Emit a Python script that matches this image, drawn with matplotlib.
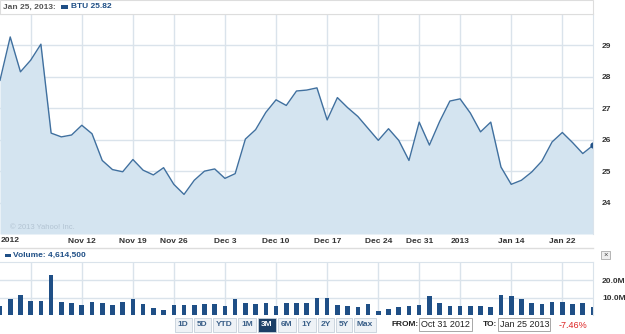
import numpy as np
import matplotlib
matplotlib.use("Agg")
import matplotlib.pyplot as plt
from matplotlib.patches import Rectangle

W, H = 625, 334

# BTU daily closes, Oct 31 2012 - Jan 25 2013 (trading days)
prices = [27.89, 29.27, 28.16, 28.53, 29.04, 26.21, 26.09, 26.15, 26.46, 26.19,
          25.34, 25.05, 24.98, 25.37, 25.03, 24.88, 25.11, 24.58, 24.26, 24.71,
          25.00, 25.07, 24.77, 24.92, 26.02, 26.32, 26.87, 27.27, 27.09, 27.55,
          27.58, 27.65, 26.63, 27.34, 27.02, 26.74, 26.36, 25.98, 26.35, 25.98,
          25.34, 26.56, 25.83, 26.58, 27.23, 27.30, 26.85, 26.25, 26.56, 25.13,
          24.58, 24.71, 24.97, 25.32, 25.93, 26.23, 25.91, 25.56, 25.82]

# volume in millions of shares
volume = [5.4, 9.4, 11.4, 8.1, 8.1, 22.7, 7.7, 6.9, 5.8, 7.3,
          6.7, 5.8, 7.7, 9.0, 6.4, 4.0, 2.7, 5.8, 5.8, 5.8,
          6.4, 6.4, 5.4, 9.4, 6.9, 6.4, 6.9, 5.4, 6.9, 6.9,
          6.7, 9.6, 10.0, 5.8, 5.4, 4.4, 6.4, 2.3, 3.5, 4.4,
          5.4, 5.8, 11.0, 6.7, 5.4, 5.4, 5.4, 5.0, 4.4, 11.4,
          11.0, 9.0, 6.9, 6.4, 7.3, 7.3, 6.4, 6.9, 4.6]

week_idx = [3, 8, 13, 17, 22, 27, 32, 37, 41, 45, 50, 55]
week_labels = ["", "Nov 12", "Nov 19", "Nov 26", "Dec 3", "Dec 10", "Dec 17",
               "Dec 24", "Dec 31", "2013", "Jan 14", "Jan 22"]
price_ticks = [24, 25, 26, 27, 28, 29]
vol_ticks = [10, 20]
vol_tick_labels = ["10.0M", "20.0M"]
buttons = ["1D", "5D", "YTD", "1M", "3M", "6M", "1Y", "2Y", "5Y", "Max"]
button_x = [174, 193, 212, 237, 257, 277, 297, 317, 335, 353, 377]

LINE = "#40709f"
FILL = "#d4e4f0"
BAR = "#1f4f86"
GRID = "#dae3eb"
TXT = "#333333"
BLUE = "#1f4f86"
FONT = "Liberation Sans"

x = np.arange(len(prices))


def fx(px):
    return px / W


def fy(py):
    return 1 - py / H


fig = plt.figure(figsize=(W / 100, H / 100), dpi=100)
fig.patch.set_facecolor("white")

# price panel
ax = fig.add_axes([0, fy(234), fx(593), (234 - 14) / H])
ax.fill_between(x, prices, 23, color=FILL, lw=0)
ax.plot(x, prices, color=LINE, lw=1.0)
ax.plot(x[-1], prices[-1], marker="o", ms=3.5, color=BAR)
ax.set_xlim(0, len(prices) - 1)
ax.set_ylim(23, 30)
ax.set_yticks(price_ticks)
ax.set_xticks(week_idx)
ax.set_xticklabels(week_labels)
ax.grid(True, color=GRID, lw=1)
ax.set_axisbelow(True)
ax.tick_params(axis="y", left=False, labelleft=False, right=False, labelright=True,
               pad=3, labelsize=6, labelcolor=TXT)
ax.tick_params(axis="x", length=0, pad=3, labelsize=6, labelcolor=TXT)
for lab in ax.get_xticklabels() + ax.get_yticklabels():
    lab.set_fontfamily(FONT)
    lab.set_fontweight("bold")
for s in ["left", "bottom"]:
    ax.spines[s].set_visible(False)
ax.spines["top"].set_color(GRID)
ax.spines["right"].set_color(GRID)
ax.text(1, 23.15, "\u00a9 2013 Yahoo! Inc.", fontsize=5.5, color="#b3c4d3",
        family=FONT)

fig.text(fx(1), fy(241), "2012", fontsize=6, fontweight="bold", color=TXT,
         family=FONT, va="center")

# header
fig.add_artist(Rectangle((0, fy(14)), fx(593), 14 / H, transform=fig.transFigure,
                         facecolor="white", edgecolor="#dddddd", lw=0.8))
fig.text(fx(3), fy(7), "Jan 25, 2013:", fontsize=6, fontweight="bold",
         color="#555555", family=FONT, va="center")
fig.add_artist(Rectangle((fx(61), fy(8.5)), fx(7), 3 / H, transform=fig.transFigure,
                         facecolor=BLUE, lw=0))
fig.text(fx(71), fy(7), "BTU 25.82", fontsize=6, fontweight="bold", color=BLUE,
         family=FONT, va="center")

# volume header
fig.add_artist(plt.Line2D([0, fx(593)], [fy(248), fy(248)], transform=fig.transFigure,
                          color="#dddddd", lw=1))
fig.add_artist(Rectangle((fx(5), fy(256.5)), fx(6), 3 / H, transform=fig.transFigure,
                         facecolor=BLUE, lw=0))
fig.text(fx(13), fy(255), "Volume: 4,614,500", fontsize=6, fontweight="bold",
         color=BLUE, family=FONT, va="center")
fig.add_artist(Rectangle((fx(601), fy(259)), fx(9), 8 / H, transform=fig.transFigure,
                         facecolor="#eeeeee", edgecolor="#aaaaaa", lw=0.6))
fig.text(fx(605.5), fy(255), "\u00d7", fontsize=5.5, color="#444444",
         ha="center", va="center", family=FONT)

# volume panel
vx = fig.add_axes([0, fy(315), fx(593), (315 - 262) / H])
vx.bar(x, volume, width=0.45, color=BAR)
vx.set_xlim(0, len(prices) - 1)
vx.set_ylim(0, 30.4)
vx.set_yticks(vol_ticks)
vx.set_yticklabels(vol_tick_labels)
vx.set_xticks(week_idx)
vx.set_xticklabels([])
vx.grid(True, color=GRID, lw=1)
vx.set_axisbelow(True)
vx.tick_params(axis="y", left=False, labelleft=False, right=False, labelright=True,
               pad=3, labelsize=6, labelcolor=TXT)
vx.tick_params(axis="x", length=0)
for lab in vx.get_yticklabels():
    lab.set_fontfamily(FONT)
    lab.set_fontweight("bold")
for s in ["left", "bottom"]:
    vx.spines[s].set_visible(False)
vx.spines["top"].set_color(GRID)
vx.spines["right"].set_color(GRID)

# range buttons
for i, b in enumerate(buttons):
    x0, x1 = button_x[i] + 0.5, button_x[i + 1] - 1
    sel = b == "3M"
    fig.add_artist(Rectangle((fx(x0), fy(332)), fx(x1 - x0), 14 / H,
                             transform=fig.transFigure,
                             facecolor="#1c3f66" if sel else "#eef2f6",
                             edgecolor="#c5d0da", lw=0.6))
    fig.text(fx((x0 + x1) / 2), fy(325), b, fontsize=6, fontweight="bold",
             color="white" if sel else "#3a5f88", ha="center", va="center",
             family=FONT)

fig.text(fx(391), fy(325), "FROM:", fontsize=6, fontweight="bold", color="#222222",
         va="center", family=FONT)
fig.add_artist(Rectangle((fx(419), fy(331)), fx(53), 13 / H, transform=fig.transFigure,
                         facecolor="white", edgecolor="#999999", lw=0.6))
fig.text(fx(421), fy(324.5), "Oct 31 2012", fontsize=6.5, color="#222222",
         va="center", family=FONT)
fig.text(fx(483), fy(325), "TO:", fontsize=6, fontweight="bold", color="#222222",
         va="center", family=FONT)
fig.add_artist(Rectangle((fx(498), fy(331)), fx(52), 13 / H, transform=fig.transFigure,
                         facecolor="white", edgecolor="#999999", lw=0.6))
fig.text(fx(500), fy(324.5), "Jan 25 2013", fontsize=6.5, color="#222222",
         va="center", family=FONT)
fig.text(fx(559), fy(325), "-7.46%", fontsize=6.5, color="#dd2222",
         va="center", family=FONT)

fig.savefig("out.png", dpi=100)
